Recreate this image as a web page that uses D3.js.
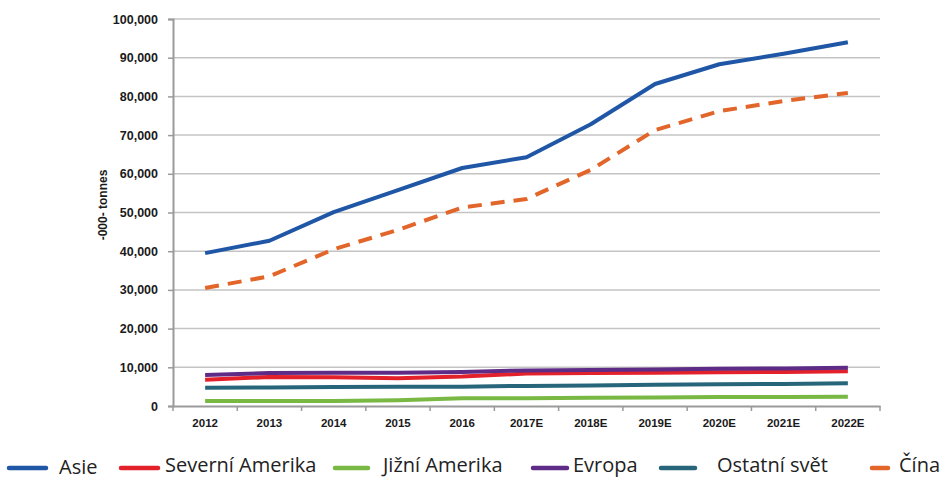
<!DOCTYPE html>
<html>
<head>
<meta charset="utf-8">
<script src="https://cdn.jsdelivr.net/npm/d3@7/dist/d3.min.js"></script>
<style>
  html, body { margin: 0; padding: 0; background: #fff; }
  svg { display: block; }
</style>
</head>
<body>
<svg id="chart" width="947" height="479"></svg>
<script>
// Years on the category axis (E = estimate)
const years = ["2012", "2013", "2014", "2015", "2016", "2017E", "2018E", "2019E", "2020E", "2021E", "2022E"];

// Consumption by region, thousand tonnes
const asie       = [39500, 42700, 50100, 55800, 61500, 64300, 72800, 83200, 88300, 91000, 94000];
const cina       = [30500, 33500, 40500, 45500, 51300, 53500, 61000, 71300, 76200, 78800, 80900];
const evropa     = [8000, 8500, 8600, 8600, 8800, 9200, 9300, 9400, 9600, 9700, 9900];
const severniAm  = [6800, 7500, 7400, 7200, 7600, 8400, 8500, 8600, 8700, 8800, 9000];
const ostatni    = [4700, 4800, 4900, 5000, 5000, 5200, 5300, 5500, 5600, 5700, 5900];
const jizniAm    = [1300, 1300, 1300, 1500, 2000, 2000, 2100, 2200, 2300, 2300, 2400];

const yTicks = [0, 10000, 20000, 30000, 40000, 50000, 60000, 70000, 80000, 90000, 100000];

const seriesNames = ["Asie", "Severní Amerika", "Jižní Amerika", "Evropa", "Ostatní svět", "Čína"];
const seriesColors = ["#1f56a5", "#e3212b", "#78b843", "#5e2b86", "#27667a", "#e2652a"];
const seriesData = [asie, severniAm, jizniAm, evropa, ostatni, cina];

const svg = d3.select("#chart");

const plotLeft = 173, plotRight = 880, plotTop = 19, plotBottom = 406;

const x = d3.scaleBand().domain(years).range([plotLeft, plotRight]);
const y = d3.scaleLinear().domain([0, 100000]).range([plotBottom, plotTop]);

// horizontal gridlines
svg.append("g")
  .selectAll("line")
  .data(yTicks.filter(d => d > 0))
  .join("line")
  .attr("x1", plotLeft).attr("x2", plotRight)
  .attr("y1", d => y(d)).attr("y2", d => y(d))
  .attr("stroke", "#c4c4c4").attr("stroke-width", 1.5);

// y axis
const yAxis = svg.append("g")
  .attr("transform", `translate(${plotLeft},0)`)
  .call(d3.axisLeft(y).tickValues(yTicks).tickSize(5).tickPadding(10)
    .tickFormat(d3.format(",")));
yAxis.select(".domain").attr("stroke", "#9a9a9a").attr("stroke-width", 2);
yAxis.selectAll(".tick line").attr("stroke", "#9a9a9a").attr("stroke-width", 1.5);
yAxis.selectAll("text")
  .attr("font-family", "Liberation Sans, Arial, sans-serif")
  .attr("font-weight", "bold").attr("font-size", 12.5).attr("fill", "#1a1a1a");

// x axis: ticks sit on the band boundaries
const xAxis = svg.append("g")
  .attr("transform", `translate(0,${plotBottom})`)
  .call(d3.axisBottom(x).tickSize(0).tickPadding(13));
xAxis.select(".domain").attr("stroke", "#9a9a9a").attr("stroke-width", 2);
xAxis.selectAll("text")
  .attr("font-family", "Liberation Sans, Arial, sans-serif")
  .attr("font-weight", "bold").attr("font-size", 11.5).attr("fill", "#1a1a1a");
xAxis.append("g")
  .selectAll("line")
  .data(years.map(d => x(d)).concat([plotRight]))
  .join("line")
  .attr("x1", d => d).attr("x2", d => d)
  .attr("y1", 0).attr("y2", 5)
  .attr("stroke", "#9a9a9a").attr("stroke-width", 1.5);

// y axis title
svg.append("text")
  .attr("transform", `translate(107,205) rotate(-90)`)
  .attr("text-anchor", "middle")
  .attr("font-family", "Liberation Sans, Arial, sans-serif")
  .attr("font-weight", "bold").attr("font-size", 12).attr("fill", "#1a1a1a")
  .text("-000- tonnes");

// series lines (drawn bottom-up so the larger regions sit on top)
const line = d3.line()
  .x((d, i) => x(years[i]) + x.bandwidth() / 2)
  .y(d => y(d));

const drawOrder = [2, 4, 1, 3, 5, 0];
drawOrder.forEach(k => {
  svg.append("path")
    .datum(seriesData[k])
    .attr("d", line)
    .attr("fill", "none")
    .attr("stroke", seriesColors[k])
    .attr("stroke-width", 4)
    .attr("stroke-linejoin", "round")
    .attr("stroke-dasharray", seriesNames[k] === "Čína" ? "14,9" : null);
});

// legend
const legendPos = [
  { sx: 9, sw: 37, tx: 59 },
  { sx: 121, sw: 37, tx: 165 },
  { sx: 335, sw: 33, tx: 383 },
  { sx: 533, sw: 34, tx: 573 },
  { sx: 661, sw: 34, tx: 717 },
  { sx: 872, sw: 16, tx: 899 }
];
const legend = svg.append("g");
seriesNames.forEach((name, i) => {
  const p = legendPos[i];
  legend.append("line")
    .attr("x1", p.sx).attr("x2", p.sx + p.sw)
    .attr("y1", 468).attr("y2", 468)
    .attr("stroke", seriesColors[i]).attr("stroke-width", 4.5)
    .attr("stroke-linecap", "round");
  legend.append("text")
    .attr("x", p.tx).attr("y", i === 0 ? 474 : 472)
    .attr("font-family", "Open Sans, Noto Sans, sans-serif")
    .attr("font-size", 20).attr("fill", "#222")
    .text(name);
});
</script>
</body>
</html>
